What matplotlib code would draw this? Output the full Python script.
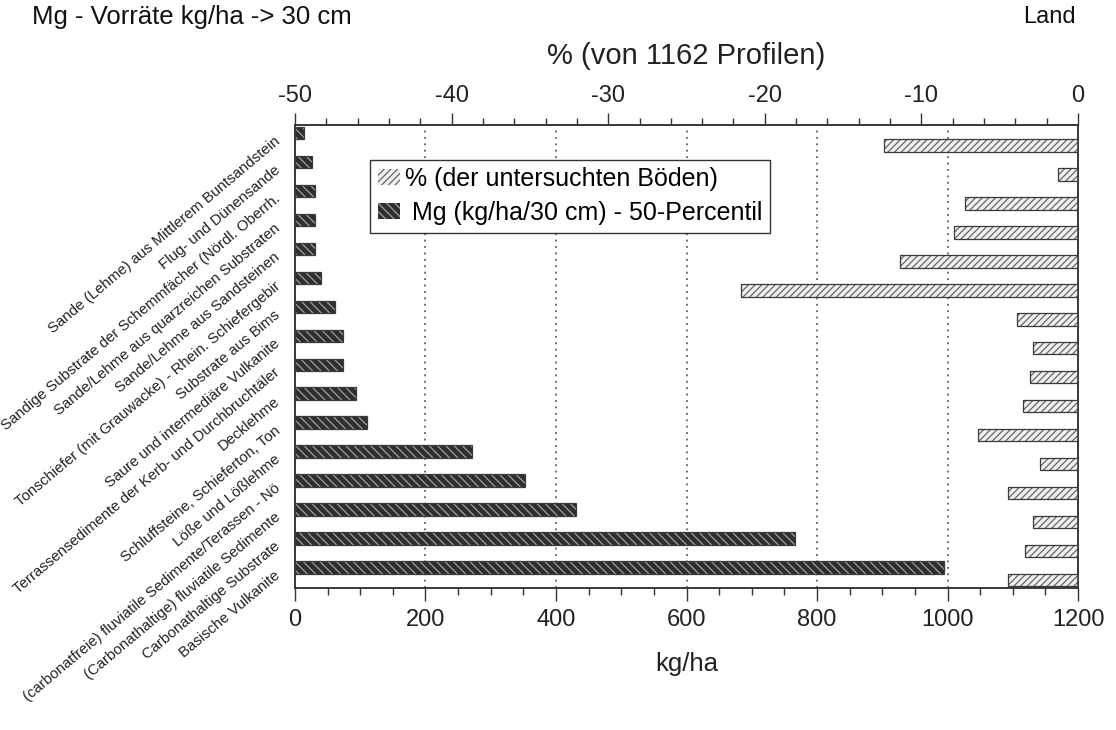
import matplotlib
matplotlib.use('Agg')
import matplotlib.pyplot as plt
import matplotlib.patches as mpatches
import numpy as np

plt.rcParams['font.family'] = ['Liberation Sans', 'DejaVu Sans']
plt.rcParams['axes.unicode_minus'] = False
plt.rcParams['hatch.linewidth'] = 0.9

# ========== Daten ==========
kategorien = [
    'Sande (Lehme) aus Mittlerem Buntsandstein',
    'Flug- und Dünensande',
    'Sandige Substrate der Schemmfächer (Nördl. Oberrh.',
    'Sande/Lehme aus quarzreichen Substraten',
    'Sande/Lehme aus Sandsteinen',
    'Tonschiefer (mit Grauwacke) - Rhein. Schiefergebir',
    'Substrate aus Bims',
    'Saure und intermediäre Vulkanite',
    'Terrassensedimente der Kerb- und Durchbruchtäler',
    'Decklehme',
    'Schluffsteine, Schieferton, Ton',
    'Löße und Lößlehme',
    '(carbonatfreie) fluviatile Sedimente/Terassen - Nö',
    '(Carbonathaltige) fluviatile Sedimente',
    'Carbonathaltige Substrate',
    'Basische Vulkanite',
]
mg_kg_ha = [14, 26, 30, 30, 31, 40, 61, 73, 73, 94, 111, 272, 352, 431, 766, 994]
prozent = [-12.4, -1.3, -7.2, -7.9, -11.4, -21.5, -3.9, -2.9, -3.1, -3.5,
           -6.4, -2.4, -4.5, -2.9, -3.4, -4.5]

kg_ticks = [0, 200, 400, 600, 800, 1000, 1200]
pct_ticks = [-50, -40, -30, -20, -10, 0]

# ========== Farben ==========
dunkel_face = '#2e2e2e'
dunkel_hatch = '#a0a0a0'
hell_face = '#f0f0f0'
hell_hatch = '#666666'
rand = '#3a3a3a'

fig = plt.figure(figsize=(11.16, 7.30), dpi=100)
ax = fig.add_axes([0.2643, 0.1945, 0.7017, 0.6343])
ax2 = ax.twiny()

y = np.arange(len(kategorien))
h = 0.43
off = 0.215

# Mg-Balken (unten, kg/ha)
ax.barh(y - off, mg_kg_ha, height=h, color=dunkel_face, edgecolor=dunkel_hatch,
        hatch='\\\\\\\\', linewidth=0, zorder=2)
ax.barh(y - off, mg_kg_ha, height=h, fill=False, edgecolor=rand, linewidth=0.9, zorder=3)

# Prozent-Balken (oben, %)
ax2.barh(y + off, prozent, height=h, color=hell_face, edgecolor=hell_hatch,
         hatch='/////', linewidth=0, zorder=2)
ax2.barh(y + off, prozent, height=h, fill=False, edgecolor=rand, linewidth=0.9, zorder=3)

ax.set_xlim(0, 1200)
ax2.set_xlim(-50, 0)
ax.set_ylim(len(kategorien) - 0.5, -0.5)

# Gitter
for v in kg_ticks[1:-1]:
    ax.axvline(v, color='#444444', linestyle=(0, (1.2, 3)), linewidth=1.1, zorder=1)

ax.set_xticks(kg_ticks)
ax.set_xticks(np.arange(0, 1201, 50), minor=True)
ax2.set_xticks(pct_ticks)
ax2.set_xticks(np.arange(-50, 1, 2), minor=True)

ax.tick_params(axis='x', which='major', direction='out', length=9, width=1,
               labelsize=17, pad=6, color='#333333', labelcolor='#222222')
ax.tick_params(axis='x', which='minor', direction='out', length=5, width=1, color='#333333')
ax2.tick_params(axis='x', which='major', direction='out', length=9, width=1,
                labelsize=17, pad=4, color='#333333', labelcolor='#222222')
ax2.tick_params(axis='x', which='minor', direction='out', length=5, width=1, color='#333333')

ax.set_yticks(y)
ax.set_yticklabels(kategorien, rotation=40, ha='right', va='center',
                   rotation_mode='anchor', fontsize=10.8, color='#222222')
ax.tick_params(axis='y', length=0, pad=12)

for a in (ax, ax2):
    for s in a.spines.values():
        s.set_color('#333333')
        s.set_linewidth(1.1)

ax.set_xlabel('kg/ha', fontsize=18.5, labelpad=15, color='#222222')
ax2.set_xlabel('% (von 1162 Profilen)', fontsize=21, labelpad=15, color='#222222')

# Legende
h_hell = mpatches.Patch(facecolor=hell_face, edgecolor=hell_hatch, hatch='/////', linewidth=0)
h_dunkel = mpatches.Patch(facecolor=dunkel_face, edgecolor=dunkel_hatch, hatch='\\\\\\\\', linewidth=0)
leg = ax2.legend([h_hell, h_dunkel],
                 ['% (der untersuchten Böden)', ' Mg (kg/ha/30 cm) - 50-Percentil'],
                 loc='upper left', bbox_to_anchor=(0.096, 0.925), fontsize=18,
                 fancybox=False, framealpha=1, edgecolor='#333333',
                 handlelength=0.9, handleheight=0.6, handletextpad=0.2,
                 borderpad=0.3, labelspacing=0.4, borderaxespad=0)
leg.get_frame().set_linewidth(1.0)
leg.set_zorder(5)

fig.text(0.029, 0.977, 'Mg - Vorräte kg/ha -> 30 cm', fontsize=18.5, va='center', ha='left',
         color='#111111')
fig.text(0.964, 0.977, 'Land', fontsize=17, va='center', ha='right', color='#111111')

plt.savefig('out.png', dpi=100)
plt.close()
